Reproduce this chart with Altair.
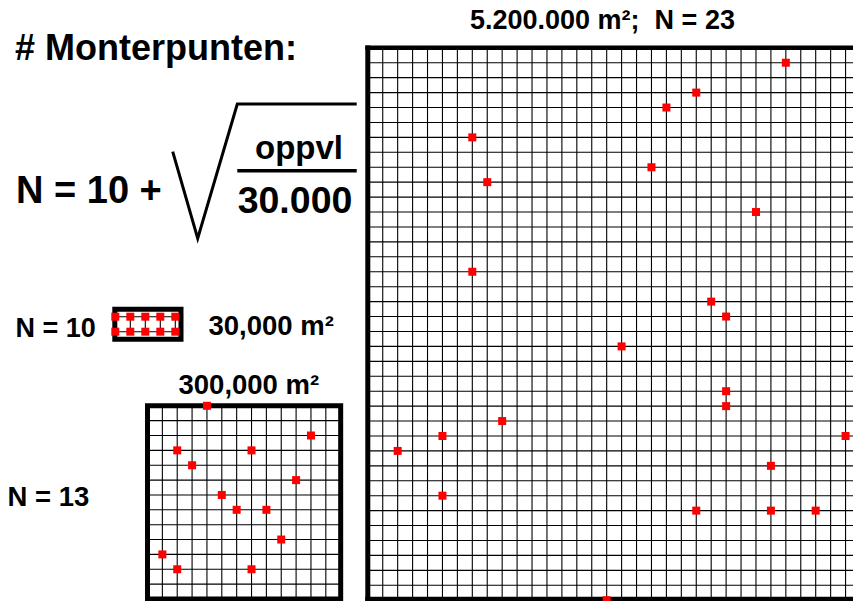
import altair as alt
import pandas as pd

# ---------------- data ----------------
title_text = "# Monterpunten:"
formula_lhs = "N = 10 +"
formula_num = "oppvl"
formula_den = "30.000"
small_label_n = "N = 10"
small_label_area = "30,000 m²"
medium_label_area = "300,000 m²"
medium_label_n = "N = 13"
large_label = "5.200.000 m²;\u00a0 N = 23"

# sample points as (column, row) grid intersections
small_cols = [0, 1, 2, 3, 4, 0, 1, 2, 3, 4]
small_rows = [0, 0, 0, 0, 0, 1, 1, 1, 1, 1]
medium_cols = [4, 11, 2, 7, 3, 10, 5, 6, 8, 9, 1, 2, 7]
medium_rows = [0, 2, 3, 3, 4, 5, 6, 7, 7, 9, 10, 11, 11]
large_cols = [28, 22, 20, 7, 19, 8, 26, 7, 23, 24, 17, 24, 24, 9, 5, 32, 2, 27, 5, 22, 27, 30, 16]
large_rows = [1, 3, 4, 6, 8, 9, 11, 15, 17, 18, 20, 23, 24, 25, 26, 26, 27, 28, 30, 31, 31, 31, 37]

# grid sizes in cells (columns, rows)
small_cells = (4, 1)
medium_cells = (13, 13)
large_cells = (33, 37)

# ---------------- layout (page pixels) ----------------
W, H = 845, 593
X0, Y0 = 8, 8
LARGE = dict(ox=367.8, oy=47.8, cell=14.93)
MEDIUM = dict(ox=147.5, oy=405.8, cell=14.86)
SMALL = dict(ox=115.3, oy=316.7, cell=15.0)


def grid_lines(g, ncols, nrows, inner_only=False):
    rows = []
    cs = range(1, ncols) if inner_only else range(0, ncols + 1)
    rs = range(1, nrows) if inner_only else range(0, nrows + 1)
    for i in cs:
        x = g["ox"] + i * g["cell"]
        rows.append(dict(x=x, x2=x, y=g["oy"], y2=g["oy"] + nrows * g["cell"]))
    for j in rs:
        y = g["oy"] + j * g["cell"]
        rows.append(dict(x=g["ox"], x2=g["ox"] + ncols * g["cell"], y=y, y2=y))
    return rows


def pts(g, cols, rows):
    return [dict(x=g["ox"] + c * g["cell"], y=g["oy"] + r * g["cell"]) for c, r in zip(cols, rows)]


lines = []
lines += grid_lines(LARGE, large_cells[0], large_cells[1], inner_only=True)
lines += grid_lines(MEDIUM, medium_cells[0], medium_cells[1], inner_only=True)
lines += grid_lines(SMALL, small_cells[0], small_cells[1], inner_only=False)
lines_df = pd.DataFrame(lines)

# thick frames
L = LARGE
lx2 = L["ox"] + large_cells[0] * L["cell"] + 2
ly2 = L["oy"] + large_cells[1] * L["cell"] - 1
frames = [
    dict(x=L["ox"], x2=L["ox"], y=L["oy"] - 2.3, y2=ly2 + 2.5, w=5),
    dict(x=L["ox"] - 2.5, x2=lx2, y=L["oy"], y2=L["oy"], w=4.5),
    dict(x=L["ox"] - 2.5, x2=lx2, y=ly2, y2=ly2, w=5),
]
frames_df = pd.DataFrame(frames)

M = MEDIUM
rect_df = pd.DataFrame([
    dict(x=M["ox"], x2=M["ox"] + medium_cells[0] * M["cell"],
         y=M["oy"], y2=M["oy"] + medium_cells[1] * M["cell"], w=5),
    dict(x=114.8, x2=181.0, y=309.3, y2=339.2, w=5),
])

points_df = pd.DataFrame(pts(SMALL, small_cols, small_rows)
                         + pts(MEDIUM, medium_cols, medium_rows)
                         + pts(LARGE, large_cols, large_rows))

# square-root sign and fraction bar
sqrt_df = pd.DataFrame(dict(x=[172.7, 197.7, 237.3, 356.7],
                            y=[151.7, 238.3, 104.0, 104.0],
                            o=[0, 1, 2, 3]))
bar_df = pd.DataFrame([dict(x=237.3, x2=356.7, y=170.7, y2=170.7)])

text_left = pd.DataFrame([
    dict(t=title_text, x=15, y=60, s=36),
    dict(t=formula_lhs, x=16, y=203, s=38),
    dict(t=small_label_n, x=15.5, y=336.5, s=27),
    dict(t=small_label_area, x=208.5, y=335, s=27.5),
    dict(t=medium_label_area, x=178.5, y=394, s=27.5),
    dict(t=medium_label_n, x=7.5, y=506, s=27.5),
    dict(t=large_label, x=470, y=29, s=27),
])
text_center = pd.DataFrame([
    dict(t=formula_num, x=299, y=159, s=33),
    dict(t=formula_den, x=295, y=213, s=37.5),
])

xs = alt.Scale(domain=[X0, X0 + W], nice=False, zero=False)
ys = alt.Scale(domain=[Y0, Y0 + H], nice=False, zero=False, reverse=True)
X = lambda f="x": alt.X(f"{f}:Q", scale=xs, axis=None)
Y = lambda f="y": alt.Y(f"{f}:Q", scale=ys, axis=None)

grid = alt.Chart(lines_df).mark_rule(color="black", strokeWidth=1.1).encode(
    x=X(), x2="x2:Q", y=Y(), y2="y2:Q")

frame = alt.Chart(frames_df).mark_rule(color="black", strokeCap="butt").encode(
    x=X(), x2="x2:Q", y=Y(), y2="y2:Q",
    strokeWidth=alt.StrokeWidth("w:Q", scale=None))

boxes = alt.Chart(rect_df).mark_rect(filled=False, stroke="black", fillOpacity=0).encode(
    x=X(), x2="x2:Q", y=Y(), y2="y2:Q",
    strokeWidth=alt.StrokeWidth("w:Q", scale=None))

points = alt.Chart(points_df).mark_square(size=64, color="#ff0000", opacity=1).encode(
    x=X(), y=Y())

sqrt_line = alt.Chart(sqrt_df).mark_line(color="black", strokeWidth=3, strokeJoin="miter",
                                         strokeCap="butt").encode(
    x=X(), y=Y(), order="o:Q")

bar = alt.Chart(bar_df).mark_rule(color="black", strokeWidth=3.5, strokeCap="butt").encode(
    x=X(), x2="x2:Q", y=Y(), y2="y2:Q")

tl = alt.Chart(text_left).mark_text(align="left", baseline="alphabetic", font="Liberation Sans",
                                    fontWeight="bold", color="black").encode(
    x=X(), y=Y(), text="t:N", size=alt.Size("s:Q", scale=None))

tc = alt.Chart(text_center).mark_text(align="center", baseline="alphabetic", font="Liberation Sans",
                                      fontWeight="bold", color="black").encode(
    x=X(), y=Y(), text="t:N", size=alt.Size("s:Q", scale=None))

chart = alt.layer(grid, frame, boxes, points, sqrt_line, bar, tl, tc).properties(
    width=W, height=H, padding=0, autosize=alt.AutoSizeParams(type="none"),
    background="white"
).configure_view(stroke=None)

chart.save("out.html", embed_options={"renderer": "svg", "actions": False})
